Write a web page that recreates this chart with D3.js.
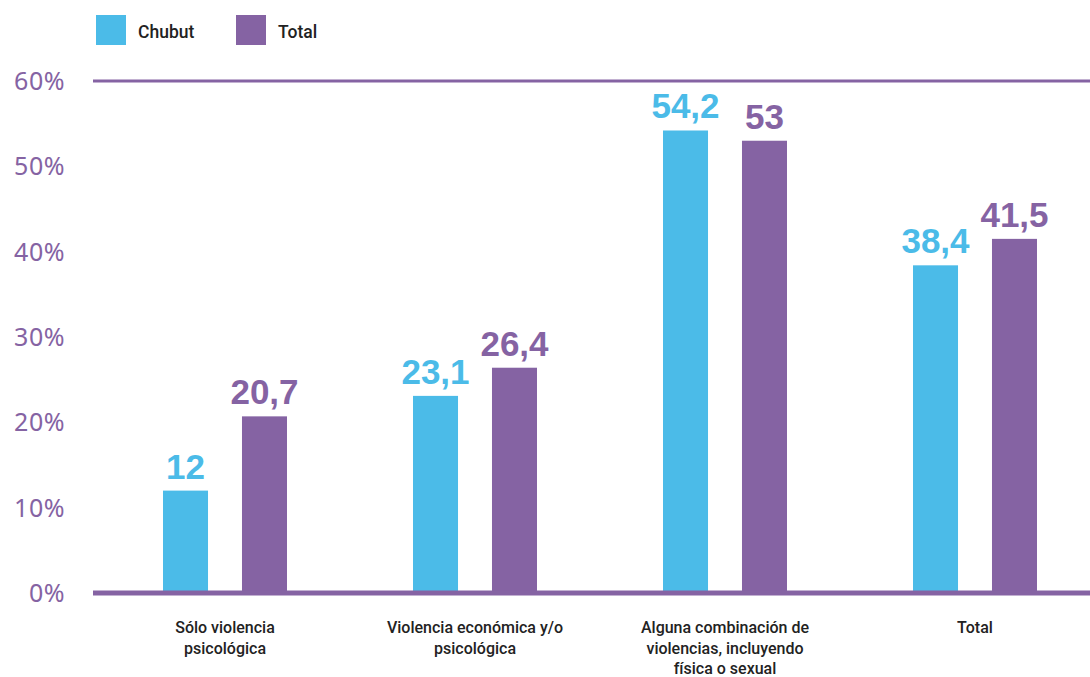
<!DOCTYPE html>
<html>
<head>
<meta charset="utf-8">
<script src="https://cdn.jsdelivr.net/npm/d3@7"></script>
<style>
  html, body { margin: 0; padding: 0; background: #fff; }
  svg { display: block; }
</style>
</head>
<body>
<svg id="chart" width="1090" height="677"></svg>
<script>
const categories = [
  ["Sólo violencia", "psicológica"],
  ["Violencia económica y/o", "psicológica"],
  ["Alguna combinación de", "violencias, incluyendo", "física o sexual"],
  ["Total"]
];
const seriesNames = ["Chubut", "Total"];
const chubut = [12, 23.1, 54.2, 38.4];
const total = [20.7, 26.4, 53, 41.5];
const valueLabels = [["12", "23,1", "54,2", "38,4"], ["20,7", "26,4", "53", "41,5"]];
const yTicks = [0, 10, 20, 30, 40, 50, 60];
const gridLines = [0, 60];

const colors = ["#4bbbe8", "#8563a3"];
const svg = d3.select("#chart");

const y = d3.scaleLinear().domain([0, 60]).range([593, 81]);
const x = d3.scaleBand().domain(d3.range(categories.length)).range([100, 1100]).padding(0);
const xs = d3.scaleBand().domain([0, 1]).range([-62, 62]).paddingInner(0.43).paddingOuter(0);

const series = [chubut, total];

// Bars
series.forEach((vals, si) => {
  svg.append("g").selectAll("rect")
    .data(vals)
    .join("rect")
    .attr("x", (d, i) => x(i) + x.bandwidth() / 2 + xs(si))
    .attr("width", xs.bandwidth())
    .attr("y", d => y(d))
    .attr("height", d => y(0) - y(d))
    .attr("fill", colors[si]);

  svg.append("g").selectAll("text")
    .data(vals)
    .join("text")
    .attr("x", (d, i) => x(i) + x.bandwidth() / 2 + xs(si) + xs.bandwidth() / 2)
    .attr("y", d => y(d) - 12)
    .attr("text-anchor", "middle")
    .attr("font-family", "'Liberation Sans', Arial, sans-serif")
    .attr("font-weight", "bold")
    .attr("font-size", 35)
    .attr("fill", colors[si])
    .text((d, i) => valueLabels[si][i]);
});

// Grid lines (top and baseline)
svg.append("g").selectAll("line")
  .data(gridLines)
  .join("line")
  .attr("x1", 93).attr("x2", 1090)
  .attr("y1", d => y(d)).attr("y2", d => y(d))
  .attr("stroke", "#8563a3")
  .attr("stroke-width", d => d === 0 ? 5 : 3);

// Y tick labels
svg.append("g").selectAll("text")
  .data(yTicks)
  .join("text")
  .attr("x", 65)
  .attr("y", d => y(d) + 9)
  .attr("text-anchor", "end")
  .attr("font-family", "'Noto Sans', sans-serif")
  .attr("font-size", 25)
  .attr("letter-spacing", 0.5)
  .attr("fill", "#8563a3")
  .text(d => d + "%");

// Category labels
const catG = svg.append("g").selectAll("text")
  .data(categories)
  .join("text")
  .attr("text-anchor", "middle")
  .attr("font-family", "Roboto, sans-serif")
  .attr("font-weight", 500)
  .attr("font-size", 16)
  .attr("fill", "#222");
catG.selectAll("tspan")
  .data((d, i) => d.map(line => ({ line, i })))
  .join("tspan")
  .attr("x", d => x(d.i) + x.bandwidth() / 2)
  .attr("y", (d, j) => 633 + j * 20.5)
  .text(d => d.line);

// Legend
const legend = svg.append("g").selectAll("g")
  .data(seriesNames)
  .join("g")
  .attr("transform", (d, i) => `translate(${96 + i * 140},15)`);
legend.append("rect")
  .attr("width", 30).attr("height", 30)
  .attr("fill", (d, i) => colors[i]);
legend.append("text")
  .attr("x", 42).attr("y", 23)
  .attr("font-family", "Roboto, sans-serif")
  .attr("font-weight", 500)
  .attr("font-size", 17.5)
  .attr("fill", "#222")
  .text(d => d);
</script>
</body>
</html>
